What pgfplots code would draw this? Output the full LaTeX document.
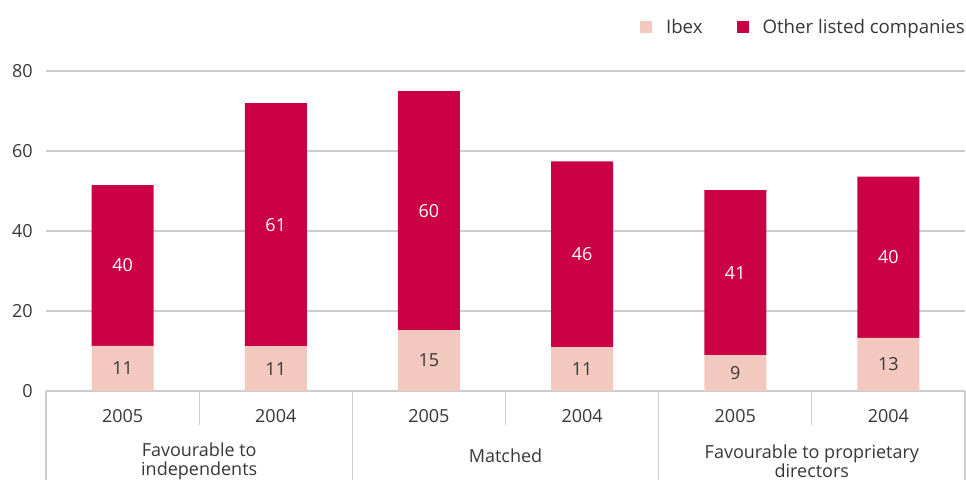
\documentclass[border=0pt]{standalone}
\usepackage{pgfplots}
\pgfplotsset{compat=1.18}
\usepackage{pgfplotstable}
\usepackage{fontspec}
\setmainfont{Open Sans}
\definecolor{ibexc}{RGB}{243,201,191}
\definecolor{otherc}{RGB}{204,0,68}
\definecolor{txt}{RGB}{55,55,55}
\definecolor{gridc}{RGB}{205,205,205}

\pgfplotstableread{
x ibex other ibexl otherl
0 11.3 40.2 11 40
1 11.2 60.8 11 61
2 15.2 59.8 15 60
3 11.0 46.4 11 46
4 9.0  41.2 9  41
5 13.3 40.3 13 40
}\data

\begin{document}
\begin{tikzpicture}[font=\fontsize{13.5}{14.25}\selectfont]
\begin{axis}[
  at={(0,0)}, anchor=south west,
  scale only axis, width=689.25pt, height=240pt,
  xmin=-0.5, xmax=5.5, ymin=0, ymax=80,
  ybar stacked, bar width=46.5pt,
  clip=false,
  axis line style={draw=none},
  major tick style={draw=none},
  ymajorgrids, grid style={gridc, line width=0.9pt},
  ytick={0,20,40,60,80},
  xtick={0,...,5}, xticklabels={2005,2004,2005,2004,2005,2004},
  tick label style={txt},
  /pgf/number format/assume math mode=true,
  yticklabel style={anchor=east, inner xsep=0pt, xshift=-9.75pt},
  xticklabel style={anchor=center, yshift=-19pt},
  legend columns=2,
  legend style={draw=none, fill=none, at={(1,1)}, anchor=east, yshift=33pt, xshift=5.5pt,
    inner sep=0pt, text=txt, font=\fontsize{14}{14.25}\selectfont,
    nodes={inner xsep=5.5pt},
    /tikz/every even column/.append style={column sep=20pt}},
]
\addplot[fill=ibexc, draw=none, point meta=explicit, nodes near coords,
  every node near coord/.append style={anchor=center, text=txt},
  legend image code/.code={\fill[ibexc] (0pt,-4.5pt) rectangle (9pt,4.5pt); \path (14pt,0pt);}]
  table[x=x, y=ibex, meta=ibexl] {\data};
\addlegendentry{Ibex}
\addplot[fill=otherc, draw=none, point meta=explicit, nodes near coords,
  every node near coord/.append style={anchor=center, text=white},
  legend image code/.code={\fill[otherc] (0pt,-4.5pt) rectangle (9pt,4.5pt); \path (14pt,0pt);}]
  table[x=x, y=other, meta=otherl] {\data};
\addlegendentry{Other listed companies}
\draw[gridc, line width=0.9pt] (axis cs:-0.5,0) -- (axis cs:-0.5,-22.25);
\draw[gridc, line width=0.9pt] (axis cs:1.5,0) -- (axis cs:1.5,-22.25);
\draw[gridc, line width=0.9pt] (axis cs:3.5,0) -- (axis cs:3.5,-22.25);
\draw[gridc, line width=0.9pt] (axis cs:5.5,0) -- (axis cs:5.5,-22.25);
\draw[gridc, line width=0.9pt] (axis cs:0.5,0) -- (axis cs:0.5,-8.5);
\draw[gridc, line width=0.9pt] (axis cs:2.5,0) -- (axis cs:2.5,-8.5);
\draw[gridc, line width=0.9pt] (axis cs:4.5,0) -- (axis cs:4.5,-8.5);
\node[text=txt, align=center] at (axis cs:0.5,-17.5) {Favourable to\\independents};
\node[text=txt, align=center] at (axis cs:2.5,-16.25) {Matched};
\node[text=txt, align=center] at (axis cs:4.5,-17.5) {Favourable to proprietary\\directors};
\end{axis}
\pgfresetboundingbox
\path (-34.5pt,-72pt) rectangle (690pt,293.25pt);
\end{tikzpicture}
\end{document}
